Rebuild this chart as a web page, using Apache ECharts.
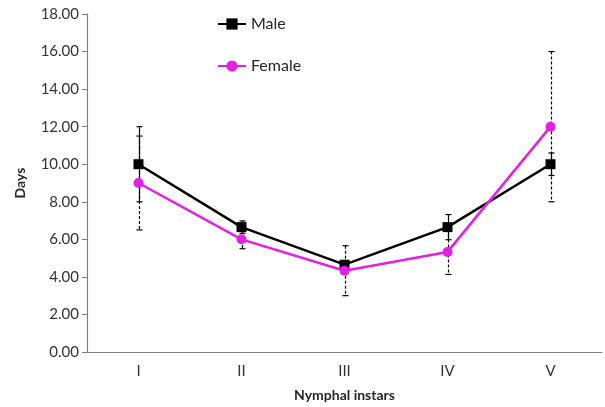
<!DOCTYPE html>
<html>
<head>
<meta charset="utf-8">
<script src="https://cdn.jsdelivr.net/npm/echarts@6/dist/echarts.min.js"></script>
<style>
  html, body { margin: 0; padding: 0; background: #fff; }
  #chart { width: 605px; height: 407px; }
</style>
</head>
<body>
<div id="chart"></div>
<script>
const instars = ['I', 'II', 'III', 'IV', 'V'];
const maleDays = [10.0, 6.65, 4.65, 6.65, 10.0];
const maleErr = [2.0, 0.33, 0.2, 0.67, 0.6];
const femaleDays = [9.0, 6.0, 4.33, 5.33, 12.0];
const femaleErr = [2.5, 0.5, 1.33, 1.2, 4.0];
const yTicks = [0, 18, 2];

const axisColor = '#7f7f7f';
const textColor = '#333';
const font = 'Lato, "Open Sans", sans-serif';

function errData(vals, errs) {
  return vals.map((v, i) => [i, v - errs[i], v + errs[i]]);
}

function errRender(dashed) {
  return function (params, api) {
    const top = api.coord([api.value(0), api.value(2)]);
    const bot = api.coord([api.value(0), api.value(1)]);
    const x = Math.round(top[0]) + 0.5;
    const w = 3;
    const style = { stroke: '#000', lineWidth: 1.2, lineDash: dashed ? [3, 2] : null };
    return {
      type: 'group',
      children: [
        { type: 'line', shape: { x1: x, y1: top[1], x2: x, y2: bot[1] }, style: style },
        { type: 'line', shape: { x1: x - w, y1: top[1], x2: x + w, y2: top[1] }, style: { stroke: '#000', lineWidth: 1.2 } },
        { type: 'line', shape: { x1: x - w, y1: bot[1], x2: x + w, y2: bot[1] }, style: { stroke: '#000', lineWidth: 1.2 } }
      ]
    };
  };
}

const chart = echarts.init(document.getElementById('chart'));
chart.setOption({
  animation: false,
  textStyle: { fontFamily: font },
  grid: { left: 87, right: 3, top: 14, bottom: 55 },
  legend: {
    data: ['Male', 'Female'],
    orient: 'vertical',
    left: 212,
    top: 11,
    itemGap: 26,
    itemWidth: 28,
    itemHeight: 14,
    textStyle: { fontSize: 16, color: '#262626', fontFamily: font }
  },
  xAxis: {
    type: 'category',
    data: instars,
    name: 'Nymphal instars',
    nameLocation: 'middle',
    nameGap: 36,
    nameTextStyle: { fontSize: 14, fontWeight: 'bold', color: '#262626' },
    axisLine: { lineStyle: { color: axisColor, width: 1.2 } },
    axisTick: { alignWithLabel: true, length: 4, lineStyle: { color: axisColor } },
    axisLabel: { fontSize: 15, color: textColor, margin: 12 }
  },
  yAxis: {
    type: 'value',
    min: yTicks[0],
    max: yTicks[1],
    interval: yTicks[2],
    name: 'Days',
    nameLocation: 'middle',
    nameGap: 60,
    nameTextStyle: { fontSize: 14, fontWeight: 'bold', color: '#262626' },
    splitLine: { show: false },
    axisLine: { show: true, lineStyle: { color: axisColor, width: 1.2 } },
    axisTick: { show: true, length: 5, lineStyle: { color: axisColor } },
    axisLabel: { fontSize: 15, color: textColor, margin: 8, formatter: v => v.toFixed(2) }
  },
  series: [
    {
      name: 'maleErr',
      type: 'custom',
      data: errData(maleDays, maleErr),
      renderItem: errRender(false),
      encode: { x: 0, y: [1, 2] },
      z: 1
    },
    {
      name: 'femaleErr',
      type: 'custom',
      data: errData(femaleDays, femaleErr),
      renderItem: errRender(true),
      encode: { x: 0, y: [1, 2] },
      z: 1
    },
    {
      name: 'Male',
      type: 'line',
      data: maleDays,
      symbol: 'rect',
      symbolSize: 10,
      lineStyle: { color: '#000', width: 2.5 },
      itemStyle: { color: '#000' },
      z: 3
    },
    {
      name: 'Female',
      type: 'line',
      data: femaleDays,
      symbol: 'circle',
      symbolSize: 10,
      lineStyle: { color: '#e61ee6', width: 2.5 },
      itemStyle: { color: '#e61ee6' },
      z: 4
    }
  ]
});
</script>
</body>
</html>
